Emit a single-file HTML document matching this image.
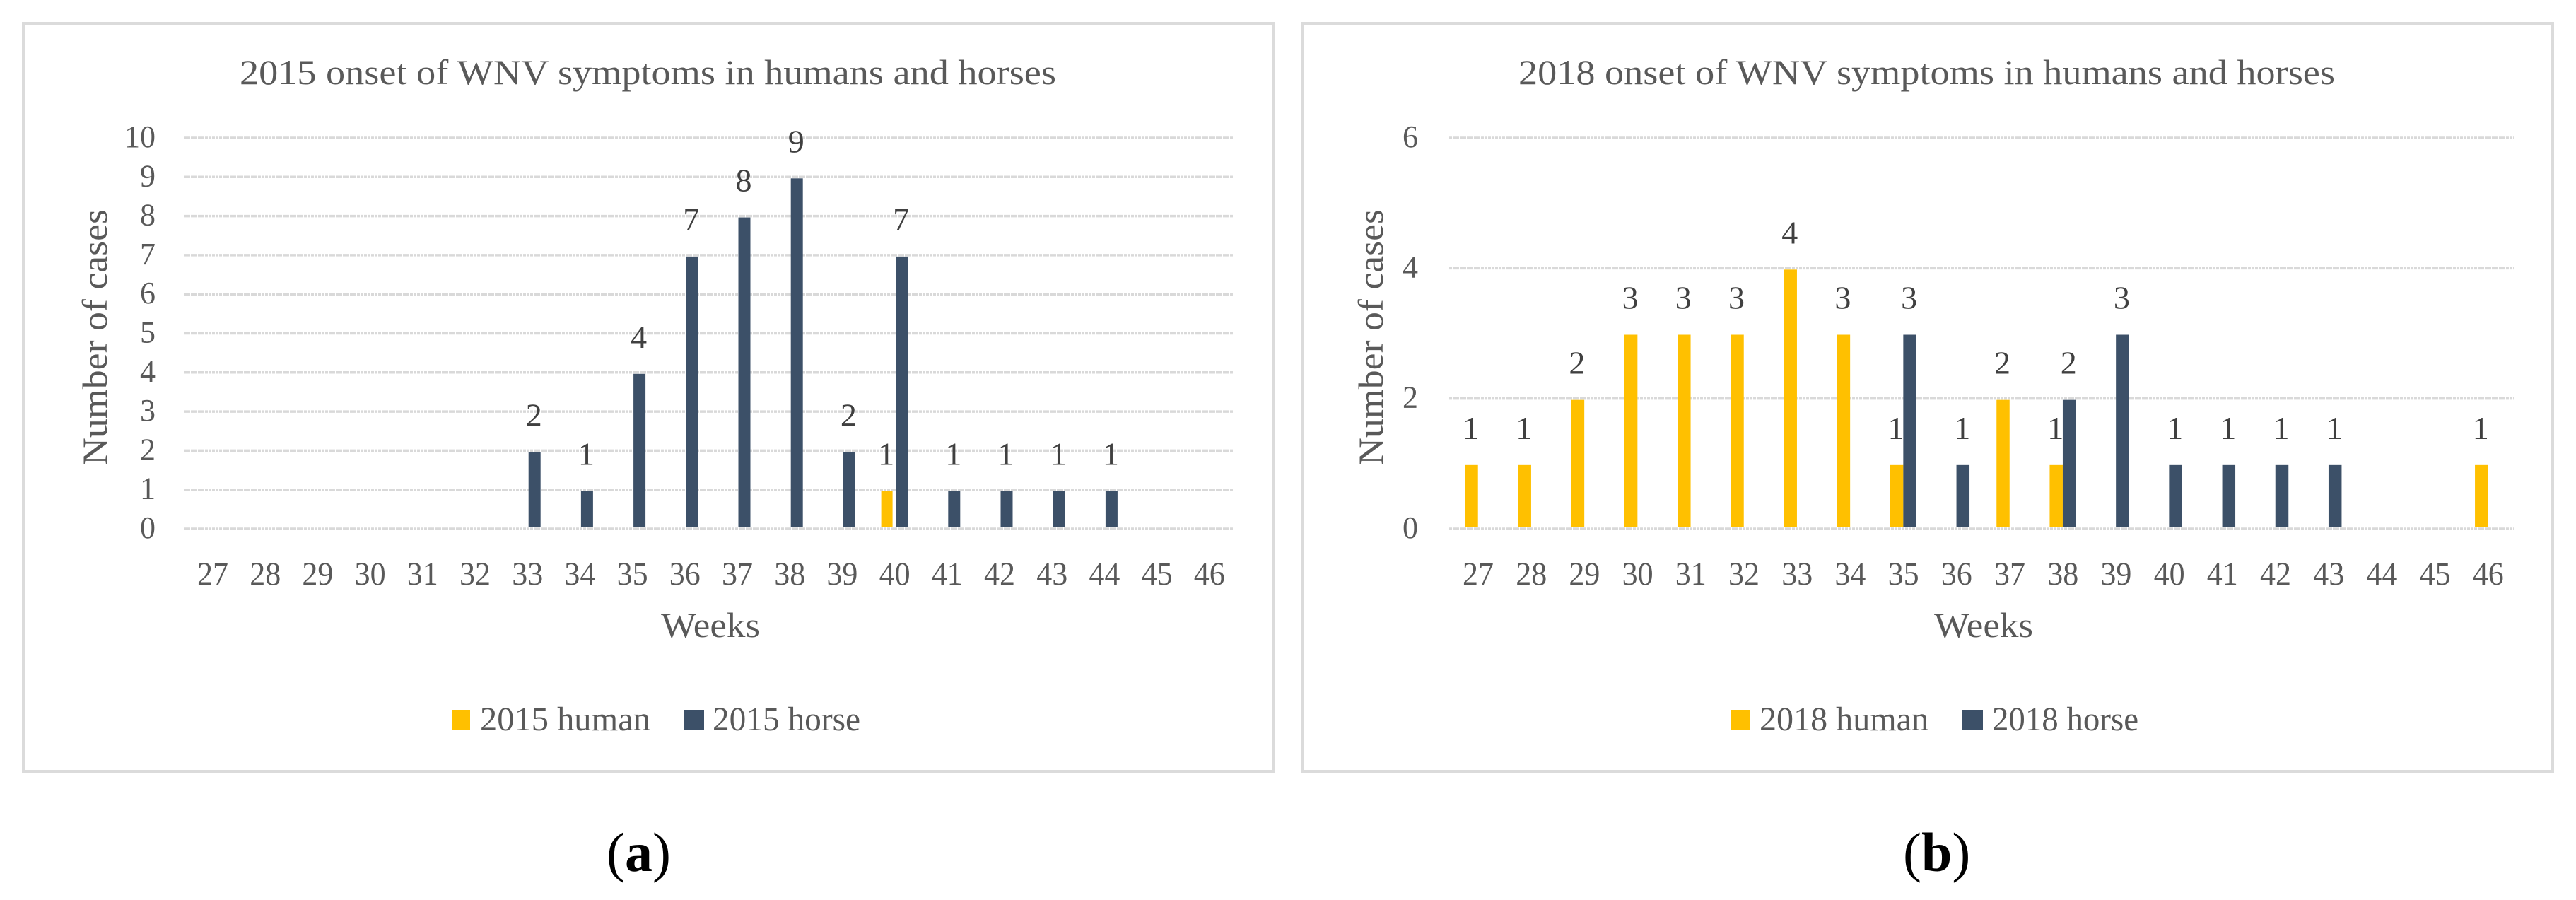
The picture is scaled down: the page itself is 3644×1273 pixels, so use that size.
<!DOCTYPE html>
<html lang="en">
<head>
<meta charset="utf-8">
<title>Onset of WNV symptoms in humans and horses</title>
<style>
html,body{margin:0;padding:0;background:#fff;}
svg{display:block;}
text{font-family:"Liberation Serif",serif;}
</style>
</head>
<body>
<svg id="figure" xmlns="http://www.w3.org/2000/svg" width="3644" height="1273" viewBox="0 0 3644 1273"></svg>
<script>
const weeks = [27,28,29,30,31,32,33,34,35,36,37,38,39,40,41,42,43,44,45,46];
const human2015 = [0,0,0,0,0,0,0,0,0,0,0,0,0,1,0,0,0,0,0,0];
const horse2015 = [0,0,0,0,0,0,2,1,4,7,8,9,2,7,1,1,1,1,0,0];
const ticks2015 = [0,1,2,3,4,5,6,7,8,9,10];
const human2018 = [1,1,2,3,3,3,4,3,1,0,2,1,0,0,0,0,0,0,0,1];
const horse2018 = [0,0,0,0,0,0,0,0,3,1,0,2,3,1,1,1,1,0,0,0];
const ticks2018 = [0,2,4,6];

const SVG_NS = 'http://www.w3.org/2000/svg';
const figure = document.getElementById('figure');
const TEXT_GREY = '#595959';

function make(parent, tag, props, content) {
  const el = document.createElementNS(SVG_NS, tag);
  for (const key in props) el.setAttribute(key, props[key]);
  if (content !== undefined) el.textContent = content;
  parent.appendChild(el);
  return el;
}

function drawPanel(cfg) {
  const xCenter = i => cfg.firstCenter + i * cfg.step;
  const yValue = v => cfg.y0 - (v / cfg.maxTick) * (cfg.y0 - cfg.yTop);
  const panel = make(figure, 'g', {});
  
  

  const frame = make(panel, 'rect', {x: cfg.frameX, y: 33, width: cfg.frameW, height: 1058, fill: '#fff', stroke: '#dbdbdb', 'stroke-width': 4});
  
  

  const title = make(panel, 'text', {x: cfg.titleX, y: 119, 'font-size': 50, fill: TEXT_GREY, textLength: 1155, lengthAdjust: 'spacingAndGlyphs'}, cfg.year + ' onset of WNV symptoms in humans and horses');
  
  

  cfg.ticks.forEach(t => {
    const grid = make(panel, 'line', {x1: cfg.gridL, x2: cfg.gridR, y1: yValue(t), y2: yValue(t), stroke: '#d9d9d9', 'stroke-width': 3.5, 'stroke-dasharray': '4 1'});
    
    
    const tick = make(panel, 'text', {x: cfg.tickRight, y: yValue(t) + 13, 'font-size': 44, fill: TEXT_GREY, 'text-anchor': 'end'}, t);
    
    
  });

  weeks.forEach((w, i) => {
    const label = make(panel, 'text', {x: xCenter(i), y: 827, 'font-size': 47, fill: TEXT_GREY, 'text-anchor': 'middle', textLength: 44, lengthAdjust: 'spacingAndGlyphs'}, w);
    
    
  });

  const series = [
    {key: 'human', values: cfg.human, color: '#FFC000', offset: cfg.humanOffset, width: cfg.humanW},
    {key: 'horse', values: cfg.horse, color: '#3C5068', offset: cfg.horseOffset, width: cfg.horseW}
  ];
  series.forEach(s => {
    s.values.forEach((v, i) => {
      if (!v) return;
      const cx = xCenter(i) + s.offset;
      const top = yValue(v) + 2;
      const bar = make(panel, 'rect', {x: cx - s.width / 2, y: top, width: s.width, height: cfg.y0 - 2 - top, fill: s.color});
      
      
      const val = make(panel, 'text', {x: cx - 1, y: top - 37, 'font-size': 46, 'text-anchor': 'middle', fill: '#404040'}, v);
      
      
    });
  });

  const yTitle = make(panel, 'text', {transform: 'translate(' + cfg.yTitleX + ' 658) rotate(-90)', 'font-size': 50, fill: TEXT_GREY, textLength: 362, lengthAdjust: 'spacingAndGlyphs'}, 'Number of cases');
  
  

  const xTitle = make(panel, 'text', {x: cfg.xTitleX, y: 901, 'font-size': 50, fill: TEXT_GREY, textLength: 140, lengthAdjust: 'spacingAndGlyphs'}, 'Weeks');
  
  

  const swatchHuman = make(panel, 'rect', {x: cfg.legend[0], y: 1004, width: 26, height: 29, fill: '#FFC000'});
  
  
  const textHuman = make(panel, 'text', {x: cfg.legend[1], y: 1033, 'font-size': 48, fill: TEXT_GREY, textLength: cfg.legend[2], lengthAdjust: 'spacingAndGlyphs'}, cfg.year + ' human');
  
  
  const swatchHorse = make(panel, 'rect', {x: cfg.legend[3], y: 1004, width: 29, height: 29, fill: '#3C5068'});
  
  
  const textHorse = make(panel, 'text', {x: cfg.legend[4], y: 1033, 'font-size': 48, fill: TEXT_GREY, textLength: cfg.legend[5], lengthAdjust: 'spacingAndGlyphs'}, cfg.year + ' horse');
  
  

  const caption = make(panel, 'text', {x: cfg.captionX, y: 1232, 'font-size': 78, fill: '#000'});
  
  
  make(caption, 'tspan', {}, '(');
  make(caption, 'tspan', {'font-weight': 'bold'}, cfg.letter);
  make(caption, 'tspan', {}, ')');
}

drawPanel({
  year: 2015, letter: 'a', human: human2015, horse: horse2015, ticks: ticks2015, maxTick: 10,
  frameX: 33, frameW: 1769, titleX: 339, gridL: 260, gridR: 1746, y0: 748, yTop: 195,
  tickRight: 220, firstCenter: 301, step: 74.2,
  humanOffset: -11, humanW: 16, horseOffset: 10, horseW: 17,
  yTitleX: 151, xTitleX: 935,
  legend: [639, 679, 241, 967, 1008, 209],
  captionX: 858
});

drawPanel({
  year: 2018, letter: 'b', human: human2018, horse: horse2018, ticks: ticks2018, maxTick: 6,
  frameX: 1842, frameW: 1769, titleX: 2148, gridL: 2050, gridR: 3557, y0: 748, yTop: 195,
  tickRight: 2006, firstCenter: 2091, step: 75.2,
  humanOffset: -9.5, humanW: 18.5, horseOffset: 9, horseW: 18.5,
  yTitleX: 1956, xTitleX: 2736,
  legend: [2449, 2489, 239, 2776, 2818, 207],
  captionX: 2692
});
</script>
</body>
</html>
